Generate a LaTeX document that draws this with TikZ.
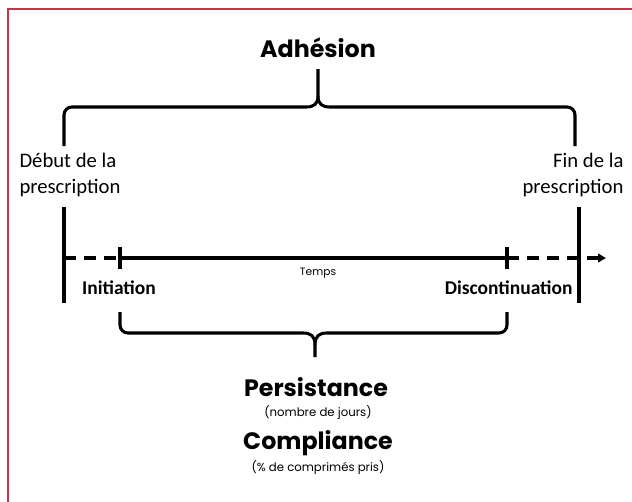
\documentclass[tikz,border=0pt]{standalone}
\usepackage{fontspec}
\setmainfont{Carlito}
\newfontfamily\geofont{Poppins}
\usetikzlibrary{arrows.meta, positioning, calc}
\definecolor{cframe}{HTML}{CC3340}
\definecolor{cink}{HTML}{000000}
\tikzset{
  every picture/.style={line width=2.3pt},
  brace/.style={draw=cink, line width=2.3pt},
  tick/.style={draw=cink, line width=2.3pt},
  axis/.style={draw=cink, line width=2.3pt},
  title/.style={font=\geofont\bfseries\fontsize{17.8}{21}\selectfont, inner sep=0pt},
  sub/.style={font=\geofont\fontsize{8}{10}\selectfont, inner sep=0pt},
  label/.style={font=\fontsize{15.5}{19.5}\selectfont, inner sep=0pt},
  event/.style={font=\bfseries\fontsize{14.6}{17}\selectfont, inner sep=0pt},
}

\begin{document}
\begin{tikzpicture}[x=0.75pt, y=-0.75pt]
  \useasboundingbox (0,0) rectangle (632,501);
  \fill[white] (0,0) rectangle (632,501);
  % frame (cut off at right and bottom)
  \draw[cframe, line width=1.3pt] (8,520) -- (8,9) -- (650,9);

  % top brace: adhesion
  \node[title] (adhesion) at (318,48) {Adhésion};
  \coordinate (tl) at (64,146);
  \coordinate (tr) at (575,146);
  \coordinate (ttip) at (318,69);
  \draw[brace, rounded corners=6pt] (tl) -- (64,107) [sharp corners] -- (306,107)
    .. controls (314,107) and (318,104) .. (318,96) -- (ttip);
  \draw[brace, rounded corners=6pt] (tr) -- (575,107) [sharp corners] -- (330,107)
    .. controls (322,107) and (318,104) .. (318,96);

  % prescription labels
  \node[label, align=left, anchor=north west] (debut) at (18,152) {Début de la\\prescription};
  \node[label, align=right, anchor=north east] (fin) at (625,152) {Fin de la\\prescription};

  % time axis
  \coordinate (a0) at (64,258);
  \coordinate (ini) at (120,258);
  \coordinate (dis) at (507,258);
  \coordinate (aend) at (606,258);
  \draw[tick] (64,207) -- (64,303);
  \draw[tick] (579,207) -- (579,303);
  \draw[axis, dash pattern=on 9pt off 6pt] (a0) -- (ini);
  \draw[axis] (ini) -- (dis);
  \draw[axis, dash pattern=on 9pt off 6pt, -{Triangle[length=6pt, width=6.5pt]}] (dis) -- (aend);
  \draw[tick] (120,247) -- (120,269);
  \draw[tick] (507,247) -- (507,269);
  \node[sub] (temps) at (318,273) {Temps};
  \node[event] (initiation) at (119,288) {Initiation};
  \node[event, anchor=east] (discont) at (574,288) {Discontinuation};

  % bottom brace: persistance
  \coordinate (bl) at (120,312);
  \coordinate (br) at (507,312);
  \coordinate (btip) at (315,357);
  \draw[brace, rounded corners=6pt] (bl) -- (120,333) [sharp corners] -- (303,333)
    .. controls (311,333) and (315,336) .. (315,345) -- (btip);
  \draw[brace, rounded corners=6pt] (br) -- (507,333) [sharp corners] -- (327,333)
    .. controls (319,333) and (315,336) .. (315,345);

  \node[title] (persist) at (316,387) {Persistance};
  \node[sub, font=\geofont\fontsize{8.8}{11}\selectfont] (jours) at (318,413) {(nombre de jours)};
  \node[title] (compl) at (318,443) {Compliance};
  \node[sub, font=\geofont\fontsize{8.8}{11}\selectfont] (pris) at (318,468) {(\% de comprimés pris)};
\end{tikzpicture}
\end{document}
